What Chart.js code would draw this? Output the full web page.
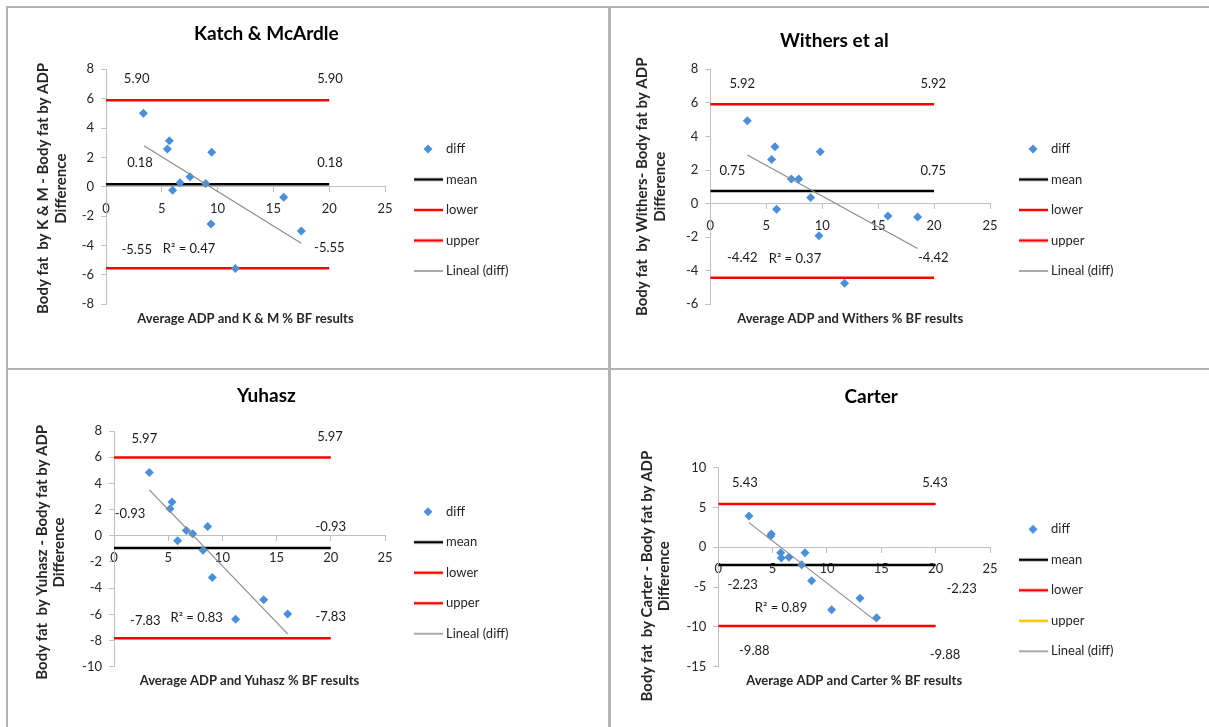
<!DOCTYPE html>
<html><head><meta charset="utf-8">
<script src="https://cdn.jsdelivr.net/npm/chart.js@4.4.0/dist/chart.umd.min.js"></script>
<style>
html,body{margin:0;padding:0;background:#fff;}
body{width:1209px;height:727px;position:relative;overflow:hidden;}
.panel{position:absolute;}
.rule{position:absolute;background:#b3b3b3;}
canvas{display:block;}
</style></head><body>
<div class="rule" style="left:6px;top:6px;width:1203px;height:2px"></div>
<div class="rule" style="left:6px;top:6px;width:2px;height:721px"></div>
<div class="rule" style="left:608px;top:6px;width:3px;height:721px"></div>
<div class="rule" style="left:6px;top:368px;width:1203px;height:2px"></div>
<div class="panel" style="left:8px;top:8px"><canvas id="c0" width="600" height="360"></canvas></div>
<div class="panel" style="left:612px;top:8px"><canvas id="c1" width="597" height="360"></canvas></div>
<div class="panel" style="left:8px;top:370px"><canvas id="c2" width="600" height="357"></canvas></div>
<div class="panel" style="left:612px;top:370px"><canvas id="c3" width="597" height="357"></canvas></div>
<script>
// ---------- data ----------
const panelTitles = ['Katch & McArdle', 'Withers et al', 'Yuhasz', 'Carter'];
const yAxisTitles = [
  ['Body fat  by K & M - Body fat by ADP', 'Difference'],
  ['Body fat  by Withers- Body fat by ADP', 'Difference'],
  ['Body fat  by Yuhasz - Body fat by ADP', 'Difference'],
  ['Body fat  by Carter - Body fat by ADP', 'Difference']
];
const xAxisTitles = [
  'Average ADP and K & M % BF results',
  'Average ADP and Withers % BF results',
  'Average ADP and Yuhasz % BF results',
  'Average ADP and Carter % BF results'
];
const seriesNames = ['diff', 'mean', 'lower', 'upper', 'Lineal (diff)'];

const kmAverage = [3.35, 5.50, 5.68, 5.97, 6.63, 7.53, 8.93, 9.47, 9.41, 11.59, 15.92, 17.50];
const kmDiff    = [5.00, 2.58, 3.14, -0.24, 0.28, 0.69, 0.22, 2.35, -2.53, -5.57, -0.71, -3.01];
const withersAverage = [3.31, 5.48, 5.78, 5.93, 7.24, 7.90, 8.97, 9.83, 9.71, 12.00, 15.88, 18.53];
const withersDiff    = [4.93, 2.63, 3.38, -0.33, 1.46, 1.46, 0.37, 3.09, -1.92, -4.74, -0.74, -0.80];
const yuhaszAverage = [3.26, 5.17, 5.35, 5.87, 6.67, 7.26, 8.64, 8.21, 9.07, 11.22, 13.81, 16.02];
const yuhaszDiff    = [4.84, 2.06, 2.57, -0.38, 0.41, 0.15, 0.71, -1.10, -3.18, -6.37, -4.89, -5.98];
const carterAverage = [2.82, 4.82, 4.88, 5.74, 5.80, 6.50, 7.98, 7.67, 8.59, 10.43, 13.04, 14.57];
const carterDiff    = [3.94, 1.42, 1.68, -0.67, -1.34, -1.26, -0.67, -2.18, -4.19, -7.83, -6.41, -8.84];

const meanValues  = [0.18, 0.75, -0.93, -2.23];
const upperValues = [5.90, 5.92, 5.97, 5.43];
const lowerValues = [-5.55, -4.42, -7.83, -9.88];
const limitLineX  = [0, 20];

const trendX = [[3.40, 17.50], [3.31, 18.53], [3.26, 16.02], [2.82, 14.57]];
const trendY = [[2.80, -3.85], [2.89, -2.67], [3.51, -7.49], [3.10, -9.34]];
const r2Values = [0.47, 0.37, 0.83, 0.89];

const xTickMin = 0, xTickMax = 25, xTickStep = 5;
const yTickMin  = [-8, -6, -10, -15];
const yTickMax  = [8, 8, 8, 10];
const yTickStep = [2, 2, 2, 5];

const averages = [kmAverage, withersAverage, yuhaszAverage, carterAverage];
const diffs = [kmDiff, withersDiff, yuhaszDiff, carterDiff];

// ---------- layout / style (not data) ----------
const FONT = 'Lato, "Open Sans", sans-serif';
const TXT = '#262626';
const AXIS = '#bfbfbf';
const BLUE = '#4a8fd9';
const RED = '#ff0000';
const GRAY = '#8c8c8c';
const upperIconColor = [RED, RED, RED, '#ffc000'];

const layouts = [
  {id:'c0', W:600, H:360, L:98,  R:377, T:61.3, B:296.3, titleCX:258.3, titleCY:25.7, yTitleX:35.3, yShift:2.7, xTitleCY:311,   legendCY:141},
  {id:'c1', W:597, H:360, L:98.3,R:378, T:61.3, B:296.3, titleCX:222.3, titleCY:33,   yTitleX:30.3, yShift:0,   xTitleCY:311,   legendCY:141},
  {id:'c2', W:600, H:357, L:106, R:377, T:61,   B:296.7, titleCX:258.3, titleCY:25.8, yTitleX:33.7, yShift:3,   xTitleCY:311,   legendCY:141.7},
  {id:'c3', W:597, H:357, L:106.3,R:378,T:97.7, B:296.7, titleCX:259.2, titleCY:27,   yTitleX:34.7, yShift:9.5, xTitleCY:310.7, legendCY:159.3}
];
// label anchors in data coordinates: [which value, x, y]
const labelAnchors = [
  [['upper',2.75,7.32],['upper',20.07,7.32],['mean',3.05,1.60],['mean',20.07,1.60],['lower',2.75,-4.30],['lower',20.01,-4.14],['r2',7.44,-4.19]],
  [['upper',2.86,7.16],['upper',19.93,7.16],['mean',1.97,1.95],['mean',19.93,1.95],['lower',2.86,-3.23],['lower',19.93,-3.23],['r2',7.57,-3.27]],
  [['upper',2.80,7.44],['upper',19.93,7.54],['mean',1.48,1.66],['mean',20.0,0.66],['lower',2.89,-6.47],['lower',19.99,-6.21],['r2',7.63,-6.24]],
  [['upper',2.45,8.12],['upper',19.94,8.12],['mean',2.24,-4.65],['mean',22.39,-5.23],['lower',3.31,-12.98],['lower',20.86,-13.53],['r2',5.77,-7.58]]
];

Chart.defaults.font.family = FONT;
Chart.defaults.color = TXT;

function makeIcon(kind, color, lw) {
  const c = document.createElement('canvas');
  c.width = 46; c.height = 14;
  const g = c.getContext('2d');
  if (kind === 'diamond') {
    g.fillStyle = color;
    g.beginPath();
    g.moveTo(30, 2.5); g.lineTo(34.5, 7); g.lineTo(30, 11.5); g.lineTo(25.5, 7);
    g.closePath(); g.fill();
  } else {
    g.strokeStyle = color; g.lineWidth = lw;
    g.beginPath(); g.moveTo(16, 7); g.lineTo(45, 7); g.stroke();
  }
  return c;
}

const mctx = document.createElement('canvas').getContext('2d');
mctx.font = 'bold 15px ' + FONT;
const nbspW = mctx.measureText('\u00A0').width || 3.5;
function shiftLine(s, shift) {
  const n = Math.round(2 * shift / nbspW);
  return s + '\u00A0'.repeat(Math.max(0, n));
}

const valueLabels = {
  id: 'valueLabels',
  afterDatasetsDraw(chart, args, opts) {
    const {ctx} = chart; const x = chart.scales.x, y = chart.scales.y;
    ctx.save();
    ctx.font = '13px ' + FONT;
    ctx.fillStyle = '#1a1a1a';
    ctx.textAlign = 'center';
    ctx.textBaseline = 'middle';
    for (const it of opts.items) ctx.fillText(it.text, x.getPixelForValue(it.x), y.getPixelForValue(it.y));
    ctx.restore();
  }
};
const legendWidth = {
  id: 'legendWidth',
  beforeLayout(chart, args, opts) {
    const lg = chart.legend;
    if (lg && !lg.__fixed) {
      const fit = lg.fit;
      lg.fit = function () { fit.call(this); this.width = opts.width; };
      lg.__fixed = true;
    }
  },
  afterLayout(chart) {
    const lg = chart.legend;
    if (lg) { lg.right = chart.width; lg.width = lg.right - lg.left; }
  }
};

layouts.forEach((p, i) => {
  const padR = p.W - 2 * p.titleCX;
  const titleLH = 19 * 1.2;
  const titlePadTop = p.titleCY - titleLH / 2;
  const titlePadBottom = p.T - titlePadTop - titleLH;
  const yLH = 17.5;
  const legendPad = 17.5;
  const legendTitleH = p.legendCY - legendPad - 6.5;

  const values = {upper: upperValues[i], mean: meanValues[i], lower: lowerValues[i]};
  const items = labelAnchors[i].map(([k, ax, ay]) => ({
    text: k === 'r2' ? 'R\u00B2 = ' + r2Values[i].toFixed(2) : values[k].toFixed(2),
    x: ax, y: ay
  }));

  const icons = [
    makeIcon('diamond', BLUE),
    makeIcon('line', '#000', 2.5),
    makeIcon('line', RED, 2.5),
    makeIcon('line', upperIconColor[i], 2.5),
    makeIcon('line', GRAY, 1.5)
  ];

  const hLine = (v) => limitLineX.map(x => ({x, y: v}));

  new Chart(document.getElementById(p.id), {
    type: 'scatter',
    data: {
      datasets: [
        {label: seriesNames[0], data: averages[i].map((x, k) => ({x, y: diffs[i][k]})),
         pointStyle: 'rectRot', pointRadius: 4.5, backgroundColor: BLUE, borderColor: BLUE, borderWidth: 0, order: 1},
        {label: seriesNames[1], data: hLine(meanValues[i]), showLine: true, pointRadius: 0,
         borderColor: '#000', borderWidth: 2.5, order: 2},
        {label: seriesNames[2], data: hLine(lowerValues[i]), showLine: true, pointRadius: 0,
         borderColor: RED, borderWidth: 2.5, order: 2},
        {label: seriesNames[3], data: hLine(upperValues[i]), showLine: true, pointRadius: 0,
         borderColor: RED, borderWidth: 2.5, order: 2},
        {label: seriesNames[4], data: trendX[i].map((x, k) => ({x, y: trendY[i][k]})), showLine: true, pointRadius: 0,
         borderColor: GRAY, borderWidth: 1.2, order: 0}
      ]
    },
    options: {
      responsive: false,
      devicePixelRatio: 1,
      animation: false,
      events: [],
      layout: {padding: {left: 0, right: padR, top: 0, bottom: 0}},
      scales: {
        x: {
          type: 'linear', min: xTickMin, max: xTickMax, position: {y: 0},
          ticks: {stepSize: xTickStep, padding: 9, color: TXT, font: {size: 13}},
          grid: {drawOnChartArea: false, drawTicks: true, tickLength: 5, color: AXIS},
          border: {color: AXIS, width: 1},
          afterFit: s => { s.height = 0; }
        },
        x2: {
          type: 'linear', min: xTickMin, max: xTickMax, position: 'bottom',
          ticks: {display: false}, grid: {display: false}, border: {display: false},
          title: {display: true, text: xAxisTitles[i], color: TXT,
                  font: {size: 13, weight: 'bold', lineHeight: 1.2},
                  padding: {top: 0, bottom: p.H - p.xTitleCY - 7.8}},
          afterFit: s => { s.height = p.H - p.B; }
        },
        y: {
          type: 'linear', min: yTickMin[i], max: yTickMax[i], position: 'left',
          ticks: {stepSize: yTickStep[i], padding: 7, color: TXT, font: {size: 13}},
          grid: {drawOnChartArea: false, drawTicks: true, tickLength: 5, color: AXIS},
          border: {color: AXIS, width: 1},
          title: {display: true, text: yAxisTitles[i].map(s => shiftLine(s, p.yShift)), color: TXT,
                  font: {size: 15, weight: 'bold', lineHeight: yLH / 15},
                  padding: {top: p.yTitleX - yLH / 2, bottom: 0}},
          afterFit: s => { s.width = p.L; }
        }
      },
      plugins: {
        title: {display: true, text: panelTitles[i], color: '#000', fullSize: true,
                font: {size: 19, weight: 'bold', lineHeight: 1.2},
                padding: {top: titlePadTop, bottom: titlePadBottom}},
        legend: {
          display: true, position: 'right', align: 'start', fullSize: true,
          title: {display: true, text: ' ', font: {size: 10, lineHeight: 1}, padding: {top: legendTitleH - 10, bottom: 0}},
          labels: {
            usePointStyle: true, pointStyleWidth: 37, padding: legendPad, color: TXT,
            font: {size: 13},
            generateLabels(chart) {
              const its = Chart.defaults.plugins.legend.labels.generateLabels(chart);
              its.forEach(it => { it.pointStyle = icons[it.datasetIndex]; it.rotation = 0; });
              return its;
            },
            sort: (a, b) => a.datasetIndex - b.datasetIndex
          }
        },
        tooltip: {enabled: false},
        legendWidth: {width: p.W - padR - p.R},
        valueLabels: {items}
      }
    },
    plugins: [legendWidth, valueLabels]
  });
});
</script>
</body></html>
